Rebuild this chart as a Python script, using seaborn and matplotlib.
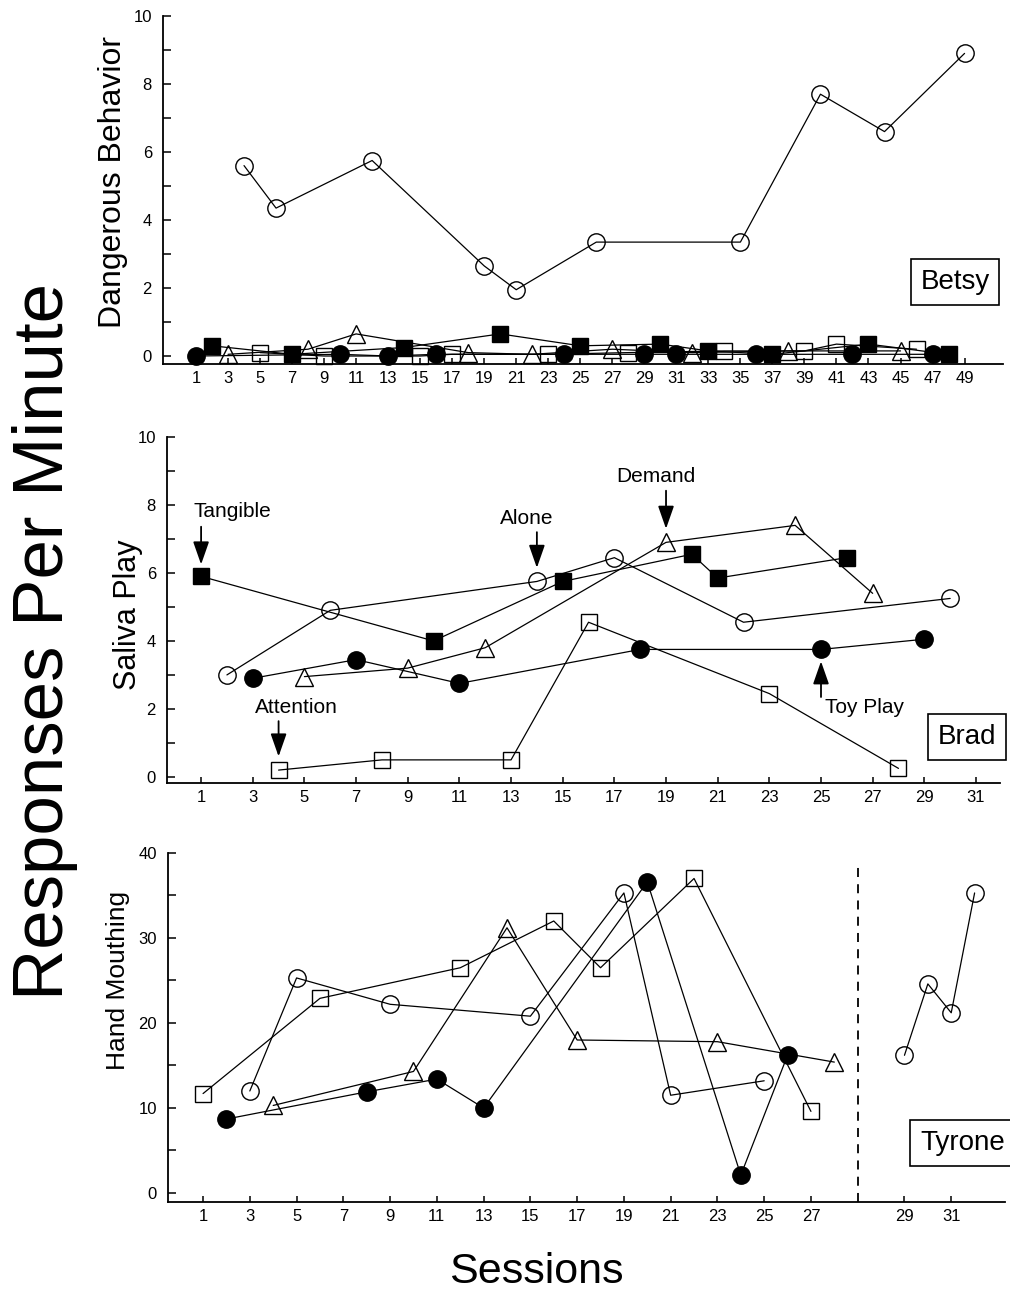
import numpy as np
import matplotlib.pyplot as plt
import seaborn as sns

sns.set_style("ticks")
plt.rcParams['font.family'] = ['Liberation Sans', 'DejaVu Sans']
plt.rcParams['text.color'] = 'black'
plt.rcParams['axes.labelcolor'] = 'black'
plt.rcParams['xtick.color'] = 'black'
plt.rcParams['ytick.color'] = 'black'
plt.rcParams['axes.edgecolor'] = 'black'

"""
Data read off the figure (session, responses per minute)
"""
# Betsy - dangerous behavior
betsy_tangible_s = [2, 7, 14, 20, 25, 30, 33, 37, 43, 48]
betsy_tangible_v = [0.3, 0.05, 0.25, 0.65, 0.3, 0.35, 0.15, 0.05, 0.35, 0.05]
betsy_alone_s = [4, 6, 12, 19, 21, 26, 35, 40, 44, 49]
betsy_alone_v = [5.6, 4.35, 5.75, 2.65, 1.95, 3.35, 3.35, 7.7, 6.6, 8.9]
betsy_toy_s = [1, 10, 13, 16, 24, 29, 31, 36, 42, 47]
betsy_toy_v = [0.0, 0.05, 0.0, 0.05, 0.05, 0.05, 0.05, 0.05, 0.05, 0.05]
betsy_attention_s = [5, 9, 15, 17, 23, 28, 34, 39, 41, 46]
betsy_attention_v = [0.1, 0.0, 0.0, 0.05, 0.05, 0.1, 0.15, 0.15, 0.35, 0.2]
betsy_demand_s = [3, 8, 11, 18, 22, 27, 32, 38, 45]
betsy_demand_v = [0.05, 0.2, 0.65, 0.1, 0.05, 0.2, 0.1, 0.15, 0.15]

# Brad - saliva play
brad_tangible_s = [1, 10, 15, 20, 21, 26]
brad_tangible_v = [5.9, 4.0, 5.75, 6.55, 5.85, 6.45]
brad_alone_s = [2, 6, 14, 17, 22, 30]
brad_alone_v = [3.0, 4.9, 5.75, 6.45, 4.55, 5.25]
brad_toy_s = [3, 7, 11, 18, 25, 29]
brad_toy_v = [2.9, 3.45, 2.75, 3.75, 3.75, 4.05]
brad_attention_s = [4, 8, 13, 16, 23, 28]
brad_attention_v = [0.2, 0.5, 0.5, 4.55, 2.45, 0.25]
brad_demand_s = [5, 9, 12, 19, 24, 27]
brad_demand_v = [2.95, 3.2, 3.8, 6.9, 7.4, 5.4]

# Tyrone - hand mouthing
tyrone_attention_s = [1, 6, 12, 16, 18, 22, 27]
tyrone_attention_v = [11.7, 22.9, 26.5, 32.0, 26.5, 37.0, 9.6]
tyrone_alone_s = [3, 5, 9, 15, 19, 21, 25]
tyrone_alone_v = [12.0, 25.3, 22.2, 20.8, 35.3, 11.5, 13.2]
tyrone_toy_s = [2, 8, 11, 13, 20, 24, 26]
tyrone_toy_v = [8.7, 11.9, 13.4, 10.0, 36.6, 2.1, 16.2]
tyrone_demand_s = [4, 10, 14, 17, 23, 28]
tyrone_demand_v = [10.3, 14.3, 31.2, 18.0, 17.8, 15.4]
tyrone_phase2_s = [29, 30, 31, 32]
tyrone_phase2_v = [16.2, 24.6, 21.2, 35.3]

# marker, face colour, size for each condition
styles = {
    'Tangible': ('s', 'black', 11),
    'Alone': ('o', 'none', 12.5),
    'Toy Play': ('o', 'black', 12.5),
    'Attention': ('s', 'none', 11),
    'Demand': ('^', 'none', 13),
}

W, H = 1010, 1294
fig = plt.figure(figsize=(W / 100, H / 100), dpi=100)


def px_axes(left, top, right, bottom):
    return fig.add_axes([left / W, 1 - bottom / H, (right - left) / W, (bottom - top) / H])


def draw(ax, s, v, cond, offset=0):
    m, fc, ms = styles[cond]
    sns.lineplot(x=np.array(s) + offset, y=v, ax=ax, color='black', lw=0.9,
                 marker=m, markersize=ms, markerfacecolor=fc,
                 markeredgecolor='black', markeredgewidth=1.0, clip_on=False)


def style_axes(ax):
    sns.despine(ax=ax)
    for sp in ['left', 'bottom']:
        ax.spines[sp].set_linewidth(1.3)
    ax.tick_params(axis='y', which='both', direction='in', length=6, width=1.1, labelsize=12, pad=8)
    ax.tick_params(axis='x', which='both', direction='in', length=4, width=1.1, labelsize=12, pad=5)
    ax.set_xlabel('')


def name_box(x, y, text, ha='center'):
    fig.text(x / W, 1 - y / H, text, fontsize=20, ha=ha, va='center',
             bbox=dict(boxstyle='square,pad=0.35', fc='white', ec='black', lw=1.2))


"""
Betsy
"""
ax1 = px_axes(163, 16, 1003, 364)
draw(ax1, betsy_toy_s, betsy_toy_v, 'Toy Play')
draw(ax1, betsy_attention_s, betsy_attention_v, 'Attention')
draw(ax1, betsy_demand_s, betsy_demand_v, 'Demand')
draw(ax1, betsy_tangible_s, betsy_tangible_v, 'Tangible')
draw(ax1, betsy_alone_s, betsy_alone_v, 'Alone')
ax1.set_xlim(-1.06, 51.4)
ax1.set_ylim(-0.235, 10)
ax1.set_xticks(range(1, 50, 2))
ax1.set_yticks(range(0, 11, 2))
ax1.set_yticks(range(0, 11), minor=True)
style_axes(ax1)
ax1.set_ylabel('Dangerous Behavior', fontsize=23, va='center')
ax1.yaxis.set_label_coords(-0.06, 0.523)
name_box(955, 282, 'Betsy')

"""
Brad
"""
ax2 = px_axes(167, 437, 1000, 783)
draw(ax2, brad_alone_s, brad_alone_v, 'Alone')
draw(ax2, brad_attention_s, brad_attention_v, 'Attention')
draw(ax2, brad_toy_s, brad_toy_v, 'Toy Play')
draw(ax2, brad_demand_s, brad_demand_v, 'Demand')
draw(ax2, brad_tangible_s, brad_tangible_v, 'Tangible')
ax2.set_xlim(-0.32, 31.93)
ax2.set_ylim(-0.18, 10)
ax2.set_xticks(range(1, 32, 2))
ax2.set_yticks(range(0, 11, 2))
ax2.set_yticks(range(0, 11), minor=True)
style_axes(ax2)
ax2.set_ylabel('Saliva Play', fontsize=22, va='center')
ax2.yaxis.set_label_coords(-0.047, 0.486)

arrow = dict(arrowstyle='-|>,head_length=1.0,head_width=0.35', color='black',
             lw=1.3, mutation_scale=14, shrinkA=0, shrinkB=0)
notes = [
    ('Tangible', 2.2, 7.8, 1, 7.36, 6.25),
    ('Alone', 13.6, 7.6, 14, 7.2, 6.15),
    ('Demand', 18.6, 8.85, 19, 8.42, 7.3),
    ('Attention', 4.7, 2.05, 4, 1.64, 0.6),
    ('Toy Play', 26.7, 2.05, 25, 2.35, 3.4),
]
for label, tx, ty, ax_x, y0, y1 in notes:
    ax2.text(tx, ty, label, fontsize=15, ha='center', va='center')
    ax2.annotate('', xy=(ax_x, y1), xytext=(ax_x, y0), arrowprops=arrow)
name_box(967, 737, 'Brad')

"""
Tyrone
"""
gap = 2  # second phase drawn after the phase line
ax3 = px_axes(168, 853, 1005, 1202)
draw(ax3, tyrone_attention_s, tyrone_attention_v, 'Attention')
draw(ax3, tyrone_alone_s, tyrone_alone_v, 'Alone')
draw(ax3, tyrone_demand_s, tyrone_demand_v, 'Demand')
draw(ax3, tyrone_toy_s, tyrone_toy_v, 'Toy Play')
draw(ax3, tyrone_phase2_s, tyrone_phase2_v, 'Alone', offset=gap)
ax3.axvline(29, ymin=0, ymax=(38.8 + 1.06) / 41.06, color='black', lw=1.3, ls=(0, (5, 4)))
ax3.set_xlim(-0.5, 35.3)
ax3.set_ylim(-1.06, 40)
ticks = list(range(1, 28, 2)) + [29 + gap, 31 + gap]
ax3.set_xticks(ticks)
ax3.set_xticklabels([str(t) for t in range(1, 28, 2)] + ['29', '31'])
ax3.set_yticks(range(0, 41, 10))
ax3.set_yticks(range(0, 41, 5), minor=True)
style_axes(ax3)
ax3.set_ylabel('Hand Mouthing', fontsize=19, va='center')
ax3.yaxis.set_label_coords(-0.06, 0.636)
name_box(920, 1143, 'Tyrone', ha='left')

fig.text(45 / W, 1 - 642 / H, 'Responses Per Minute', fontsize=51, rotation=90,
         ha='center', va='center')
fig.text(536 / W, 1 - 1272 / H, 'Sessions', fontsize=31, ha='center', va='center')

plt.savefig('out.png', dpi=100)
